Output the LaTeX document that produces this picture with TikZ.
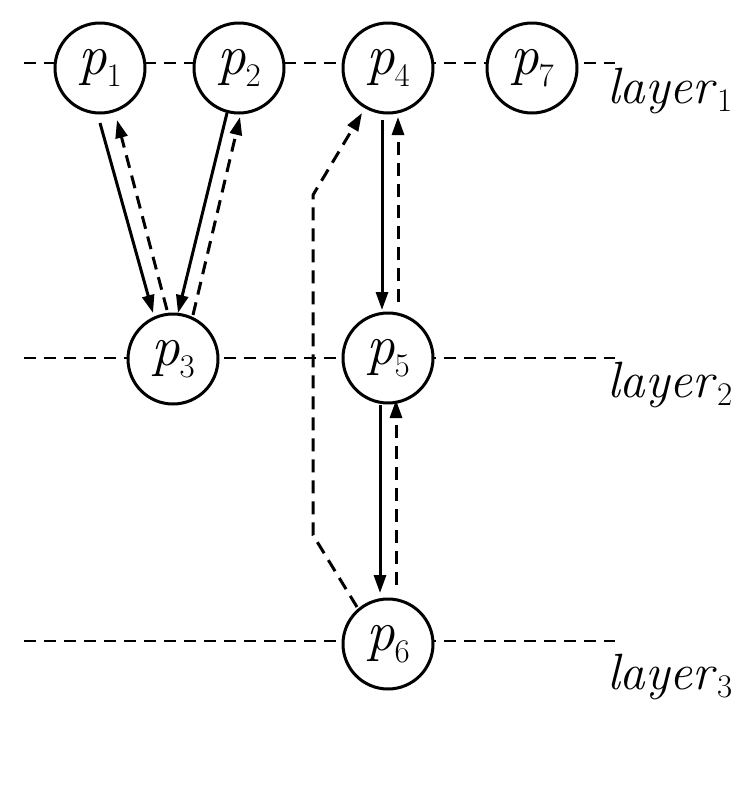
\documentclass[tikz,border=0pt]{standalone}
\usetikzlibrary{arrows.meta,calc}
\newcommand{\lbl}[3]{\textit{#1}\raisebox{-#3em}{\fontsize{33}{33}\selectfont #2}}
\begin{document}
\begin{tikzpicture}[x=1pt,y=-1pt,
 pnode/.style={circle, draw, line width=3pt, fill=white, minimum size=90pt, inner sep=0pt, font=\fontsize{57}{57}\selectfont},
 layerline/.style={dash pattern=on 12pt off 8pt, line width=2.4pt},
 solidarr/.style={line width=3pt, -{Triangle[length=18pt,width=12pt]}},
 dasharr/.style={line width=3pt, dash pattern=on 13pt off 8pt, -{Triangle[length=18pt,width=12pt]}},
 laylbl/.style={anchor=base west, font=\fontsize{51}{51}\selectfont, inner sep=0pt}]
\useasboundingbox (0,0) rectangle (742,801);
% layer lines
\coordinate (l1a) at (24,63); \coordinate (l1b) at (615,63);
\coordinate (l2a) at (24,358); \coordinate (l2b) at (615,358);
\coordinate (l3a) at (24,641); \coordinate (l3b) at (615,641);
\draw[layerline] (l1a) -- (l1b);
\draw[layerline] (l2a) -- (l2b);
\draw[layerline] (l3a) -- (l3b);
% nodes
\node[pnode] (p1) at (100,68) {\lbl{p}{1}{0.2}};
\node[pnode] (p2) at (239,68) {\lbl{p}{2}{0.2}};
\node[pnode] (p4) at (388,68) {\lbl{p}{4}{0.2}};
\node[pnode] (p7) at (532,68) {\lbl{p}{7}{0.2}};
\node[pnode] (p3) at (173,359) {\lbl{p}{3}{0.2}};
\node[pnode] (p5) at (388,358) {\lbl{p}{5}{0.2}};
\node[pnode] (p6) at (388,644) {\lbl{p}{6}{0.2}};
% labels
\node[laylbl] (L1) at (607,103) {\lbl{layer}{1}{0.17}};
\node[laylbl] (L2) at (607,397) {\lbl{layer}{2}{0.17}};
\node[laylbl] (L3) at (607,689) {\lbl{layer}{3}{0.17}};
% arrows
\draw[solidarr] ($(p1)+(0,55)$) -- ($(p3)+(-20,-46)$);
\draw[dasharr] ($(p3)+(-6,-49)$) -- ($(p1)+(17,52)$);
\draw[solidarr] ($(p2)+(-12,45)$) -- ($(p3)+(5,-46)$);
\draw[dasharr] ($(p3)+(20,-44)$) -- ($(p2)+(1,49)$);
\draw[solidarr] ($(p4)+(-6,52)$) -- ($(p5)+(-6,-48)$);
\draw[dasharr] ($(p5)+(10,-56)$) -- ($(p4)+(10,49)$);
\draw[solidarr] ($(p5)+(-8,47)$) -- ($(p6)+(-8,-51)$);
\draw[dasharr] ($(p6)+(8,-59)$) -- ($(p5)+(8,42)$);
\coordinate (b1) at (313,535);
\coordinate (b2) at (313,195);
\draw[dasharr] ($(p6)+(-31,-37)$) -- (b1) -- (b2) -- ($(p4)+(-26,45)$);
\end{tikzpicture}
\end{document}
